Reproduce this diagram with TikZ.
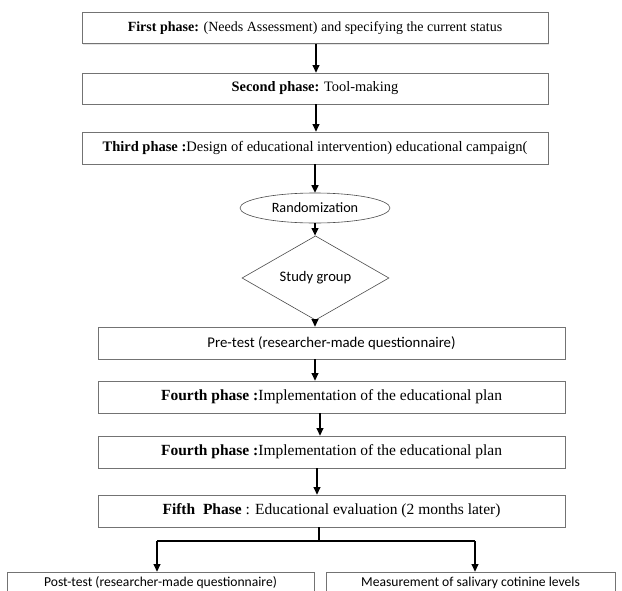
\documentclass[tikz,border=0pt]{standalone}
\usepackage{fontspec}
\setmainfont{Liberation Serif}
\newfontfamily\carl{Carlito}
\usetikzlibrary{arrows.meta,shapes.geometric,shadows}
\begin{document}
\begin{tikzpicture}[x=1pt,y=-1pt,
  phasebox/.style={draw=black!55, line width=0.8pt, fill=white, minimum width=466pt, minimum height=31pt, inner sep=0pt, font=\fontsize{14}{16}\selectfont,
    drop shadow={shadow xshift=0.8pt, shadow yshift=-1.2pt, opacity=0.25, fill=black!40}},
  bigbox/.style={phasebox, minimum width=467pt, minimum height=32pt, font=\fontsize{15.5}{17}\selectfont},
  sansbox/.style={phasebox, font=\carl\fontsize{14.8}{16}\selectfont},
  arr/.style={line width=1.1pt, -{Triangle[length=7.5pt,width=7pt]}},
  lin/.style={line width=1.1pt}]
\useasboundingbox (0,0) rectangle (622,590);
\fill[white] (0,0) rectangle (622,590);
\clip (0,0) rectangle (622,590);

\node[phasebox] (p1) at (315,28) {\textbf{First phase:} (Needs Assessment) and specifying the current status};
\node[phasebox, font=\fontsize{14.4}{16}\selectfont] (p2) at (315,88.5) {\textbf{Second phase:} Tool-making};
\node[phasebox, minimum height=32pt, font=\fontsize{14.5}{16}\selectfont] (p3) at (315,148) {\textbf{Third phase :}Design of educational intervention) educational campaign(};

\node[ellipse, draw=black!70, line width=0.6pt, minimum width=150pt, minimum height=30pt, inner sep=0pt, font=\carl\fontsize{14.2}{16}\selectfont] (rnd) at (315,208) {Randomization};
\node[diamond, draw=black!70, line width=0.6pt, minimum width=147pt, minimum height=52pt, inner sep=0pt, font=\carl\fontsize{14.6}{16}\selectfont] (sg) at (315.5,278) {Study group};

\node[sansbox, minimum width=467pt, minimum height=32pt] (pre) at (331.5,343) {Pre-test (researcher-made questionnaire)};
\node[bigbox] (f1) at (331.5,397) {\textbf{Fourth phase :}Implementation of the educational plan};
\node[bigbox] (f2) at (331.5,452) {\textbf{Fourth phase :}Implementation of the educational plan};
\node[bigbox] (f5) at (331.5,511) {\textbf{Fifth\ \ Phase} : Educational evaluation (2 months later)};

\node[sansbox, minimum width=307pt, minimum height=22pt, font=\carl\fontsize{13.6}{15}\selectfont] (post) at (160.5,583) {Post-test (researcher-made questionnaire)};
\node[sansbox, minimum width=289pt, minimum height=22pt, font=\carl\fontsize{13.6}{15}\selectfont] (meas) at (470.5,583) {Measurement of salivary cotinine levels};

\coordinate (xa) at (316,0);
\coordinate (xb) at (315,0);
\coordinate (xc) at (320,0);
\coordinate (xd) at (317,0);
\coordinate (xe) at (319,0);
\coordinate (split) at (319,541);
\coordinate (sl) at (157,541);
\coordinate (sr) at (475,541);

\draw[arr] (p1.south -| xa) -- (p2.north -| xa);
\draw[arr] (p2.south -| xa) -- (p3.north -| xa);
\draw[arr] (p3.south -| xb) -- (rnd.north -| xb);
\draw[arr] (rnd.south -| xb) -- (sg.north -| xb);
\draw[arr] (sg.south -| xb) -- (pre.north -| xb);
\draw[arr] (pre.south -| xb) -- (f1.north -| xb);
\draw[arr] (f1.south -| xc) -- (f2.north -| xc);
\draw[arr] (f2.south -| xd) -- (f5.north -| xd);
\draw[lin] (f5.south -| xe) -- (split);
\draw[lin] (sl) -- (sr);
\draw[arr] (sl) -- (post.north -| sl);
\draw[arr] (sr) -- (meas.north -| sr);
\end{tikzpicture}
\end{document}
